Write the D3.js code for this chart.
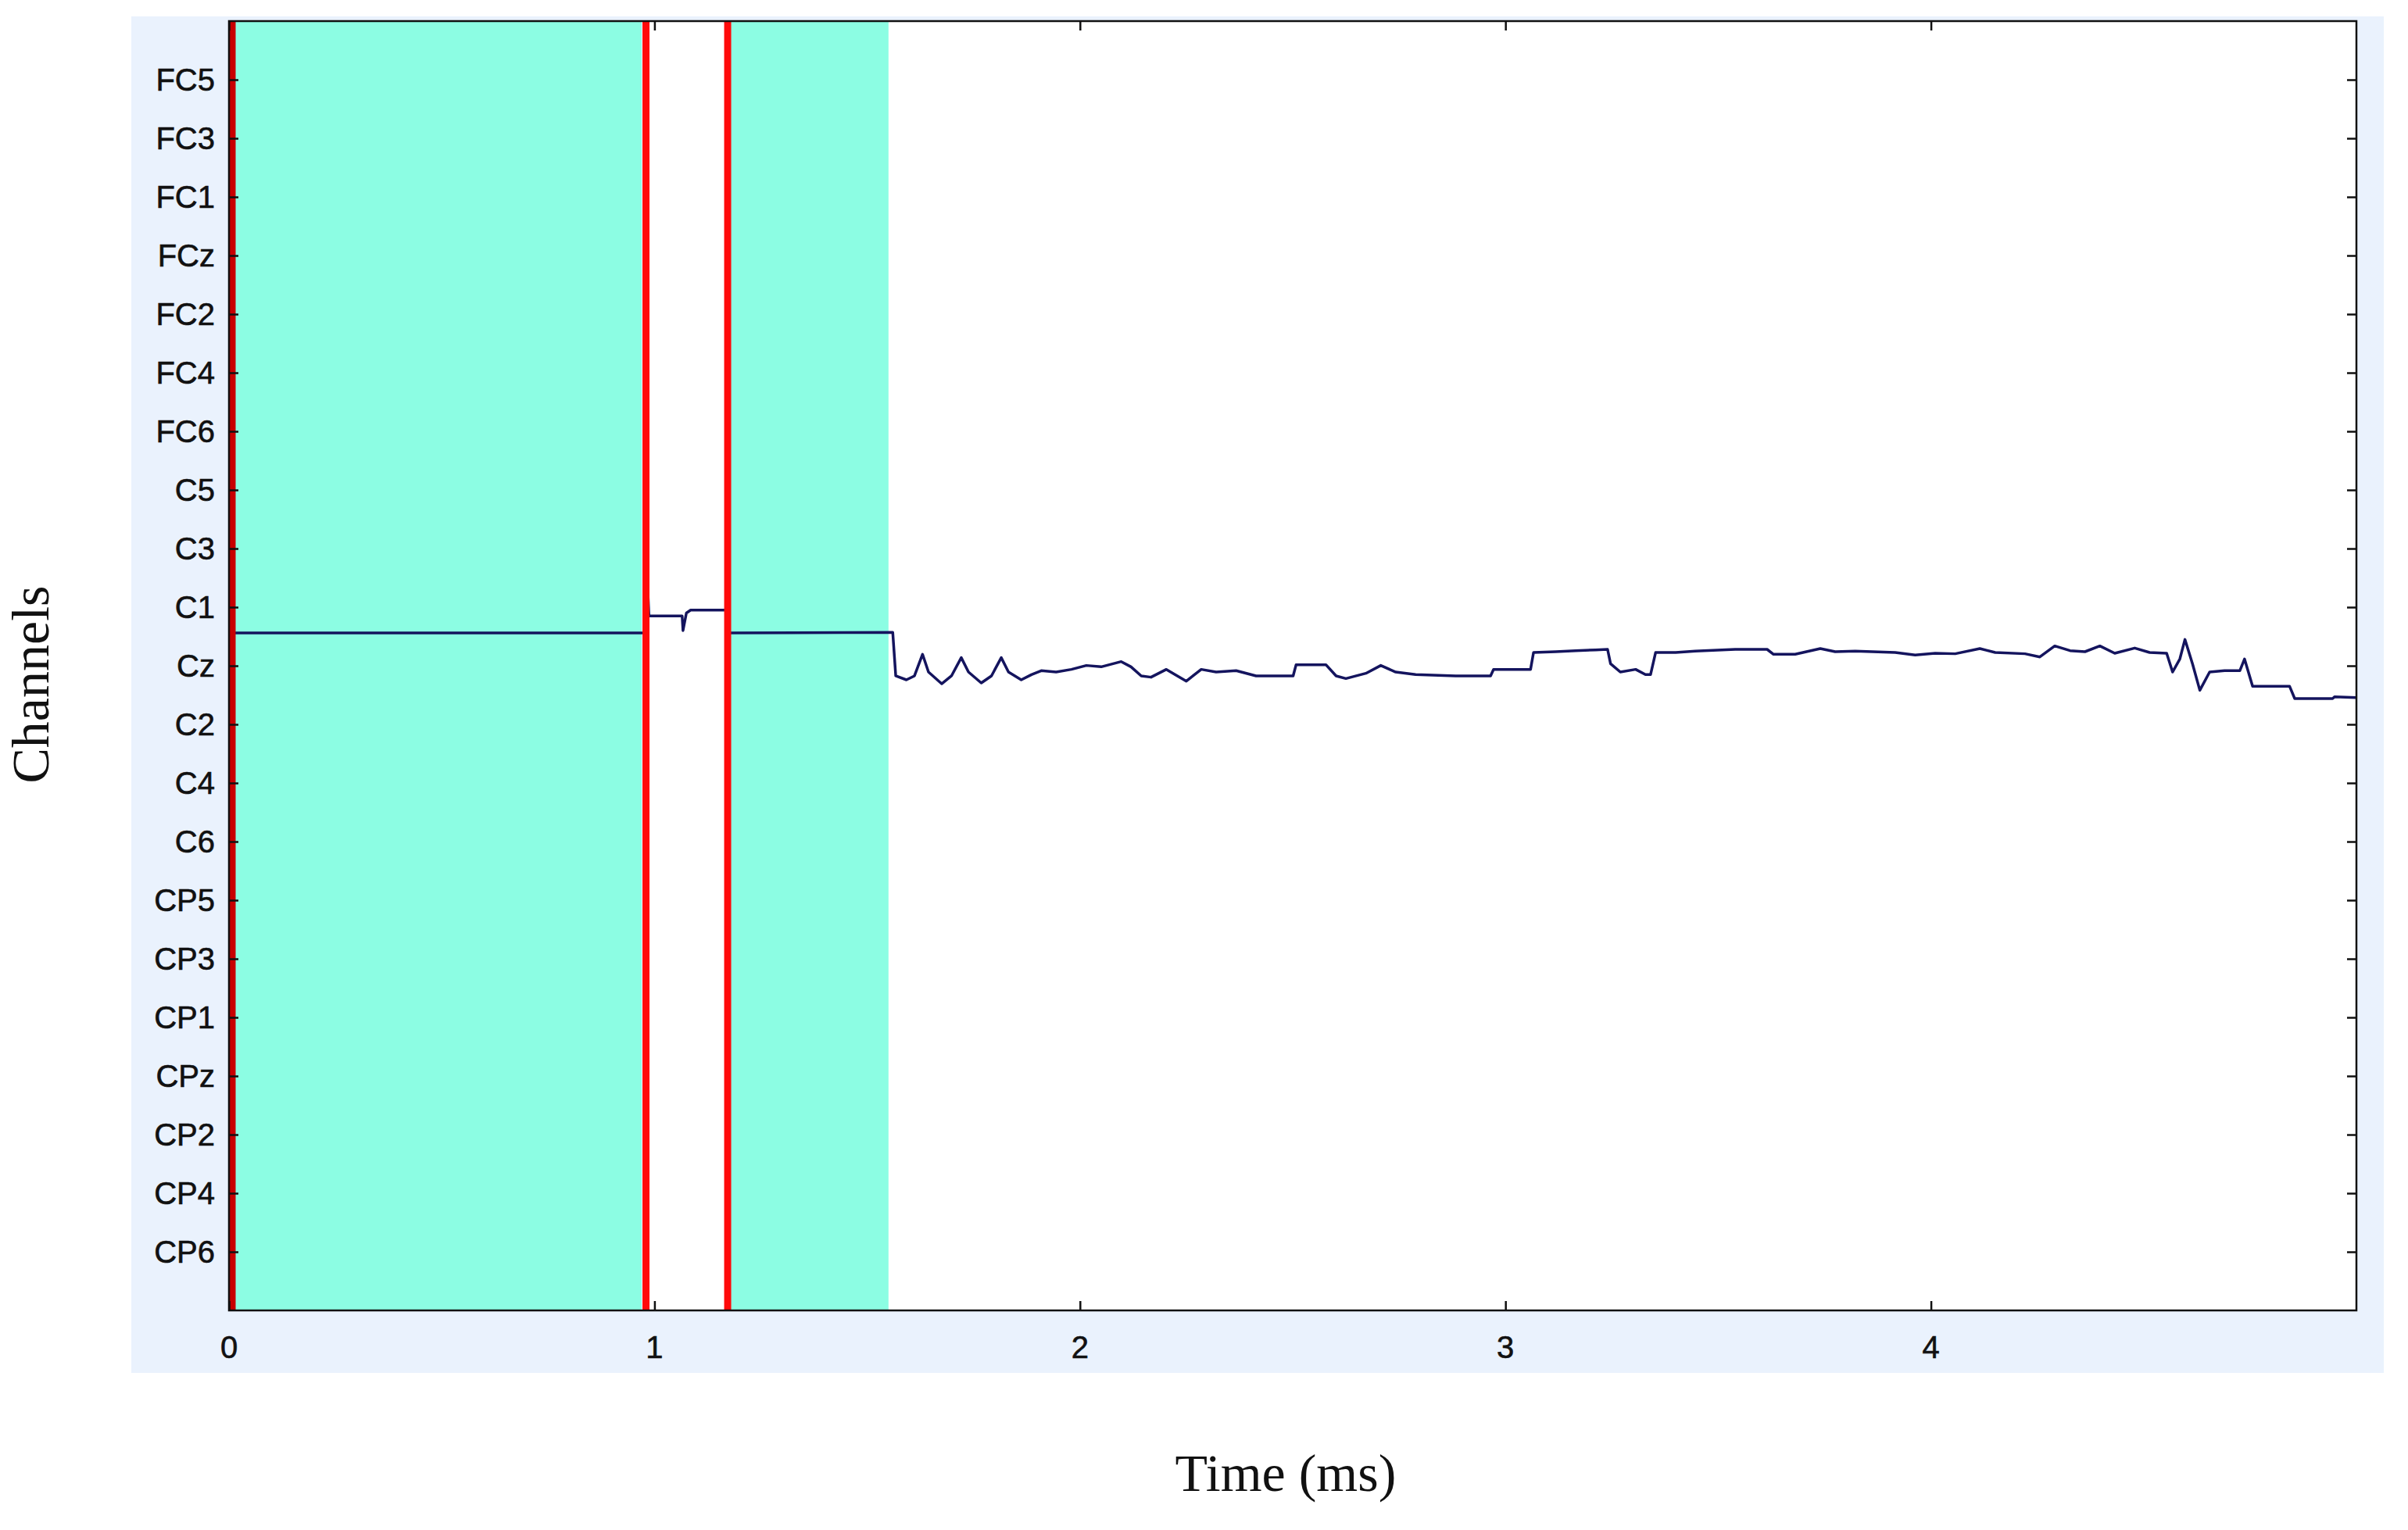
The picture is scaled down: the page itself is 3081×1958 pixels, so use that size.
<!DOCTYPE html>
<html><head><meta charset="utf-8">
<script src="https://cdn.jsdelivr.net/npm/d3@7"></script>
<style>body{margin:0;background:#fff}</style></head>
<body><svg id="c" width="3081" height="1958"></svg>
<script>
const channels=["FC5","FC3","FC1","FCz","FC2","FC4","FC6","C5","C3","C1","Cz","C2","C4","C6","CP5","CP3","CP1","CPz","CP2","CP4","CP6"];
const xTicks=[0,1,2,3,4];
const cyanSpans=[[0,0.97],[1.178,1.55]];
const redLines=[0.0,0.98,1.172];
// [time ms, channel-position]
const signal=[[0,9.44],[0.98,9.44],[0.983,8.5],[0.987,9.15],[1.065,9.15],[1.067,9.4],[1.075,9.1],[1.085,9.05],[1.17,9.05],[1.172,9.44],
[1.56,9.431],[1.567,10.173],[1.592,10.24],[1.611,10.173],[1.63,9.804],[1.644,10.107],[1.675,10.307],[1.698,10.173],[1.721,9.862],[1.738,10.107],[1.768,10.293],[1.792,10.173],[1.815,9.862],[1.832,10.107],[1.862,10.24],[1.886,10.151],[1.909,10.084],[1.944,10.107],[1.98,10.062],[2.015,9.995],[2.05,10.018],[2.097,9.929],[2.12,10.018],[2.144,10.173],[2.167,10.195],[2.203,10.062],[2.25,10.262],[2.285,10.062],[2.32,10.107],[2.367,10.084],[2.414,10.173],[2.461,10.173],[2.501,10.173],[2.508,9.982],[2.578,9.982],[2.602,10.173],[2.625,10.218],[2.672,10.129],[2.707,9.995],[2.742,10.107],[2.789,10.151],[2.883,10.173],[2.965,10.173],[2.972,10.062],[3.059,10.062],[3.066,9.773],[3.118,9.76],[3.165,9.742],[3.212,9.729],[3.24,9.72],[3.247,9.964],[3.27,10.107],[3.306,10.062],[3.329,10.151],[3.341,10.151],[3.353,9.773],[3.4,9.773],[3.446,9.751],[3.54,9.72],[3.615,9.72],[3.63,9.804],[3.681,9.804],[3.74,9.707],[3.775,9.76],[3.822,9.751],[3.916,9.773],[3.963,9.818],[4.01,9.787],[4.057,9.795],[4.115,9.707],[4.151,9.773],[4.221,9.795],[4.256,9.849],[4.291,9.662],[4.327,9.742],[4.362,9.76],[4.397,9.662],[4.432,9.787],[4.479,9.698],[4.514,9.773],[4.554,9.787],[4.568,10.107],[4.585,9.884],[4.597,9.551],[4.615,9.973],[4.632,10.418],[4.655,10.107],[4.69,10.084],[4.726,10.084],[4.737,9.884],[4.756,10.351],[4.843,10.351],[4.855,10.56],[4.944,10.56],[4.949,10.529],[5.0,10.542]];

const svg=d3.select("#c");
const L=293,R=3015,T=27,B=1677;
svg.append("rect").attr("x",168).attr("y",21).attr("width",3050-168).attr("height",1757-21).attr("fill","#eaf2fd");
svg.append("rect").attr("x",L).attr("y",T).attr("width",R-L).attr("height",B-T).attr("fill","#fff");
const x=d3.scaleLinear().domain([0,5]).range([L,R]);
const y=d3.scaleLinear().domain([-1,channels.length]).range([T,B]);
svg.selectAll(".cy").data(cyanSpans).join("rect").attr("x",d=>x(d[0])).attr("width",d=>x(d[1])-x(d[0])).attr("y",T).attr("height",B-T).attr("fill","#8cfde3");
svg.append("path").datum(signal).attr("d",d3.line().x(d=>x(d[0])).y(d=>y(d[1]))).attr("fill","none").attr("stroke","#14145e").attr("stroke-width",3.5).attr("stroke-linejoin","round");
svg.selectAll(".rl").data(redLines).join("line").attr("x1",d=>x(d)+(d===0?4:0)).attr("x2",d=>x(d)+(d===0?4:0)).attr("y1",T).attr("y2",B).attr("stroke",(d,i)=>i===0?"#c80000":"#ff0a0a").attr("stroke-width",9);
svg.append("rect").attr("x",L).attr("y",T).attr("width",R-L).attr("height",B-T).attr("fill","none").attr("stroke","#111").attr("stroke-width",2.5);
const font="'Liberation Sans Narrow','Liberation Sans',Arial,sans-serif";
const yl=svg.append("g").attr("transform",`translate(${L},0)`).call(d3.axisRight(y).tickValues(d3.range(channels.length)).tickFormat("").tickSize(12));
const yr=svg.append("g").attr("transform",`translate(${R},0)`).call(d3.axisLeft(y).tickValues(d3.range(channels.length)).tickFormat("").tickSize(12));
const xb=svg.append("g").attr("transform",`translate(0,${B})`).call(d3.axisTop(x).tickValues(xTicks).tickFormat("").tickSize(12));
const xt=svg.append("g").attr("transform",`translate(0,${T})`).call(d3.axisBottom(x).tickValues(xTicks).tickFormat("").tickSize(12));
[yl,yr,xb,xt].forEach(g=>{g.select(".domain").remove();g.selectAll("line").attr("stroke","#111").attr("stroke-width",2.5);});
svg.selectAll(".yt").data(channels).join("text").attr("x",L-18).attr("y",(d,i)=>y(i)).attr("dy","0.36em").attr("text-anchor","end").attr("font-family",font).attr("font-size",40).attr("fill","#111").attr("stroke","#111").attr("stroke-width",0.6).text(d=>d);
svg.selectAll(".xtl").data(xTicks).join("text").attr("x",d=>x(d)).attr("y",1724).attr("dy","0.36em").attr("text-anchor","middle").attr("font-family",font).attr("font-size",40).attr("fill","#111").attr("stroke","#111").attr("stroke-width",0.6).text(d=>d);
svg.append("text").attr("transform","translate(62,876) rotate(-90)").attr("text-anchor","middle").attr("font-family","'Liberation Serif',serif").attr("font-size",68).attr("fill","#111").text("Channels");
svg.append("text").attr("x",1645).attr("y",1908).attr("text-anchor","middle").attr("font-family","'Liberation Serif',serif").attr("font-size",68).attr("fill","#111").text("Time (ms)");
</script></body></html>
